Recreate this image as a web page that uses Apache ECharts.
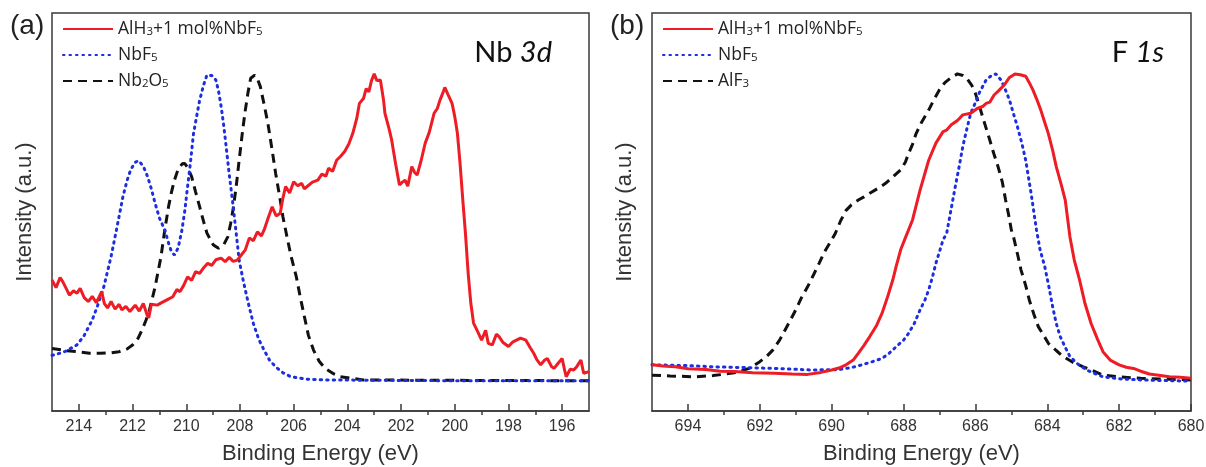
<!DOCTYPE html>
<html>
<head>
<meta charset="utf-8">
<title>XPS Nb 3d / F 1s</title>
<script src="https://cdn.jsdelivr.net/npm/echarts@6/dist/echarts.min.js"></script>
<style>
  html, body { margin: 0; padding: 0; background: #fff; }
  #chart { width: 1206px; height: 467px; }
</style>
</head>
<body>
<div id="chart"></div>
<script>
// tick labels
const nbTicks = [214, 212, 210, 208, 206, 204, 202, 200, 198, 196]
const nbMinorTicks = [213, 211, 209, 207, 205, 203, 201, 199, 197]
const fTicks = [694, 692, 690, 688, 686, 684, 682, 680]
const fMinorTicks = [693, 691, 689, 687, 685, 683, 681]

// (a) Nb 3d, [binding energy, intensity a.u.]
const nbComposite = [
  [215.0, 32.9], [214.85, 31.0], [214.7, 33.5], [214.6, 32.5], [214.45, 30.5], [214.35, 29.1], [214.2, 30.2],
  [214.07, 29.6], [213.95, 30.8], [213.8, 28.5], [213.65, 27.5], [213.5, 28.8], [213.35, 27.2], [213.15, 30.0],
  [213.05, 27.0], [212.93, 25.9], [212.8, 27.5], [212.65, 25.6], [212.5, 26.8], [212.4, 25.4], [212.25, 26.3],
  [212.1, 25.0], [211.9, 26.6], [211.75, 25.1], [211.6, 27.0], [211.45, 24.0], [211.4, 23.4], [211.3, 26.8],
  [211.08, 26.6], [210.9, 27.3], [210.7, 28.0], [210.5, 28.7], [210.35, 30.5], [210.23, 30.0], [210.1, 31.5],
  [209.95, 33.7], [209.8, 32.8], [209.65, 35.0], [209.5, 34.6], [209.35, 36.0], [209.2, 37.1], [209.05, 36.6],
  [208.9, 38.0], [208.7, 38.4], [208.55, 37.5], [208.4, 38.6], [208.25, 37.6], [208.1, 37.9], [207.95, 39.2],
  [207.8, 40.5], [207.65, 43.5], [207.5, 42.8], [207.35, 45.0], [207.2, 44.0], [207.1, 45.5], [206.95, 48.5],
  [206.8, 51.3], [206.65, 49.0], [206.5, 49.7], [206.4, 53.5], [206.3, 56.4], [206.15, 54.8], [206.0, 57.6],
  [205.85, 56.6], [205.7, 57.2], [205.6, 55.8], [205.5, 56.4], [205.3, 57.5], [205.1, 58.0], [204.95, 59.5],
  [204.8, 59.0], [204.7, 61.0], [204.55, 60.2], [204.4, 63.0], [204.25, 64.0], [204.1, 65.2], [203.95, 67.0],
  [203.8, 69.7], [203.65, 73.5], [203.55, 77.3], [203.4, 78.5], [203.3, 81.0], [203.2, 80.2], [203.1, 83.0],
  [203.0, 84.7], [202.9, 83.0], [202.77, 83.2], [202.65, 78.0], [202.6, 74.8], [202.45, 71.0], [202.35, 68.1],
  [202.2, 62.0], [202.06, 56.8], [201.95, 57.5], [201.85, 58.0], [201.75, 56.5], [201.6, 61.4], [201.5, 60.0],
  [201.4, 59.3], [201.25, 63.0], [201.1, 67.3], [200.95, 70.0], [200.77, 74.8], [200.65, 76.0], [200.55, 78.1],
  [200.45, 79.8], [200.37, 81.3], [200.25, 79.5], [200.1, 77.3], [200.0, 74.0], [199.9, 69.7], [199.8, 62.0],
  [199.7, 53.0], [199.6, 44.5], [199.5, 34.6], [199.4, 27.0], [199.3, 22.1], [199.15, 20.0], [199.0, 17.8],
  [198.85, 20.3], [198.75, 17.0], [198.6, 16.6], [198.45, 19.3], [198.35, 18.7], [198.2, 17.2], [198.0, 16.2],
  [197.85, 17.3], [197.7, 17.8], [197.55, 18.3], [197.35, 17.8], [197.2, 16.0], [197.06, 14.5], [196.95, 13.0],
  [196.8, 11.6], [196.65, 12.8], [196.55, 13.2], [196.4, 11.2], [196.3, 10.7], [196.15, 12.0], [196.0, 13.2],
  [195.9, 10.0], [195.85, 8.6], [195.7, 10.5], [195.57, 10.3], [195.45, 11.2], [195.3, 12.8], [195.2, 9.5],
  [195.0, 9.9]
]
const nbF5 = [
  [215.0, 14.0], [214.9, 14.1], [214.5, 15.0], [214.07, 16.6], [213.8, 19.0], [213.5, 22.9], [213.3, 26.5],
  [213.07, 31.2], [212.8, 38.8], [212.6, 45.5], [212.36, 53.8], [212.2, 58.0], [212.07, 60.6], [211.9, 62.5],
  [211.77, 62.9], [211.6, 61.5], [211.44, 58.9], [211.3, 55.8], [211.16, 52.2], [211.0, 48.5], [210.8, 45.5],
  [210.65, 42.0], [210.55, 40.0], [210.44, 39.2], [210.3, 41.0], [210.16, 45.5], [210.05, 50.5], [209.95, 56.4],
  [209.85, 62.0], [209.73, 69.7], [209.6, 74.5], [209.5, 78.1], [209.35, 82.0], [209.23, 84.4], [209.05, 84.3],
  [208.9, 83.2], [208.8, 80.5], [208.7, 76.5], [208.6, 71.5], [208.5, 65.6], [208.4, 59.5], [208.28, 53.0],
  [208.14, 44.7], [208.03, 37.9], [207.9, 33.5], [207.8, 30.4], [207.65, 26.0], [207.5, 22.0], [207.3, 18.0],
  [207.1, 15.3], [206.9, 12.8], [206.67, 11.1], [206.4, 9.6], [206.1, 8.6], [205.5, 8.0], [204.8, 7.8],
  [200.0, 7.6], [195.0, 7.6]
]
const nb2O5 = [
  [215.0, 15.7], [214.5, 15.2], [214.07, 14.9], [213.6, 14.5], [213.2, 14.5], [212.8, 14.6], [212.5, 14.9],
  [212.2, 15.6], [212.0, 16.6], [211.8, 18.2], [211.65, 20.3], [211.5, 22.8], [211.37, 25.4], [211.16, 31.2],
  [211.05, 35.0], [210.94, 38.8], [210.8, 45.5], [210.66, 51.3], [210.55, 55.0], [210.44, 58.0], [210.3, 60.8],
  [210.15, 62.1], [210.06, 62.2], [209.95, 61.2], [209.8, 58.9], [209.65, 55.0], [209.5, 51.3], [209.35, 47.5],
  [209.23, 44.7], [209.0, 41.8], [208.8, 40.9], [208.6, 41.8], [208.45, 43.8], [208.35, 47.0], [208.24, 51.3],
  [208.13, 57.0], [208.03, 63.0], [207.9, 70.5], [207.8, 75.6], [207.7, 80.0], [207.6, 83.6], [207.45, 84.4],
  [207.35, 83.5], [207.24, 81.5], [207.1, 77.0], [206.96, 72.3], [206.8, 65.5], [206.67, 59.7], [206.5, 53.0],
  [206.4, 48.8], [206.25, 43.8], [206.1, 39.0], [205.9, 33.7], [205.75, 28.5], [205.6, 23.7], [205.45, 19.0],
  [205.26, 15.3], [205.05, 12.5], [204.83, 10.7], [204.5, 9.3], [204.26, 8.6], [203.4, 7.8], [200.0, 7.7],
  [195.0, 7.6]
]

// (b) F 1s
const fComposite = [
  [695.0, 11.6], [694.7, 11.3], [694.35, 11.1], [694.0, 10.6], [693.5, 10.4], [693.1, 10.0], [692.7, 9.9],
  [692.2, 9.6], [691.6, 9.5], [691.1, 9.3], [690.67, 9.2], [690.3, 9.7], [690.0, 10.3], [689.8, 10.8],
  [689.6, 11.6], [689.4, 12.8], [689.26, 14.5], [689.1, 16.5], [688.94, 18.7], [688.75, 21.5], [688.6, 24.5],
  [688.45, 28.5], [688.3, 32.9], [688.2, 36.5], [688.08, 40.5], [687.95, 43.5], [687.86, 45.5], [687.75, 48.0],
  [687.54, 55.5], [687.3, 63.0], [687.1, 67.3], [686.9, 70.2], [686.8, 70.6], [686.67, 71.9], [686.5, 73.0],
  [686.35, 74.4], [686.13, 74.8], [685.95, 76.0], [685.8, 76.5], [685.7, 77.3], [685.6, 77.6], [685.48, 79.4],
  [685.35, 80.5], [685.2, 81.9], [685.05, 83.8], [684.9, 84.7], [684.75, 84.5], [684.6, 84.1], [684.5, 82.5],
  [684.4, 80.7], [684.3, 78.5], [684.18, 75.6], [684.07, 72.5], [683.97, 69.7], [683.85, 65.5], [683.75, 61.4],
  [683.6, 56.5], [683.5, 53.0], [683.37, 43.8], [683.25, 38.0], [683.1, 32.9], [682.95, 27.0], [682.78, 22.0],
  [682.6, 18.0], [682.45, 14.9], [682.25, 12.8], [682.0, 11.6], [681.8, 11.0], [681.6, 10.7], [681.4, 10.0],
  [681.16, 9.3], [680.9, 9.0], [680.6, 8.6], [680.3, 8.5], [680.0, 8.2]
]
const fNbF5 = [
  [695.0, 11.6], [694.0, 11.4], [693.26, 11.1], [692.4, 10.9], [691.6, 10.7], [690.56, 10.3], [689.8, 10.4],
  [689.45, 10.9], [689.16, 11.6], [688.9, 12.3], [688.6, 13.2], [688.4, 14.5], [688.2, 16.2], [688.0, 17.8],
  [687.86, 19.5], [687.7, 22.0], [687.54, 25.4], [687.4, 28.0], [687.3, 30.4], [687.2, 33.5], [687.1, 37.1],
  [687.0, 40.0], [686.9, 43.0], [686.8, 44.6], [686.68, 50.5], [686.56, 56.4], [686.45, 61.5], [686.35, 66.5],
  [686.24, 70.8], [686.13, 74.8], [686.0, 77.5], [685.9, 79.8], [685.8, 81.5], [685.7, 83.2], [685.55, 84.3],
  [685.43, 84.7], [685.3, 83.3], [685.2, 81.5], [685.05, 78.1], [684.95, 75.0], [684.83, 71.4], [684.7, 67.0],
  [684.6, 63.0], [684.45, 54.7], [684.3, 45.5], [684.2, 40.5], [684.07, 36.3], [683.95, 31.0], [683.85, 26.2],
  [683.75, 22.0], [683.64, 18.7], [683.5, 16.0], [683.37, 13.7], [683.15, 11.8], [682.9, 10.3], [682.65, 9.3],
  [682.45, 8.6], [682.0, 8.1], [681.4, 7.8], [680.5, 7.6], [680.0, 7.5]
]
const fAlF3 = [
  [695.0, 9.0], [694.5, 8.8], [693.8, 8.6], [693.3, 8.9], [692.94, 9.3], [692.6, 9.8], [692.3, 10.7],
  [692.15, 11.5], [692.0, 12.4], [691.8, 13.8], [691.64, 15.3], [691.45, 17.8], [691.3, 20.3], [691.15, 22.8],
  [691.0, 25.4], [690.85, 28.3], [690.67, 31.2], [690.5, 34.3], [690.35, 37.1], [690.2, 40.0], [690.0, 43.0],
  [689.9, 44.6], [689.75, 47.8], [689.6, 50.4], [689.45, 51.8], [689.26, 53.0], [689.1, 53.8], [688.94, 54.7],
  [688.7, 56.0], [688.5, 57.2], [688.3, 58.8], [688.08, 60.6], [687.95, 62.5], [687.86, 64.7], [687.75, 67.0],
  [687.65, 69.7], [687.5, 72.5], [687.3, 75.6], [687.15, 78.3], [687.0, 80.7], [686.85, 82.5], [686.7, 83.6],
  [686.5, 84.7], [686.35, 84.3], [686.24, 83.6], [686.1, 81.8], [686.0, 79.8], [685.9, 77.0], [685.8, 73.9],
  [685.7, 71.0], [685.6, 68.1], [685.5, 65.0], [685.37, 61.4], [685.25, 57.5], [685.16, 53.0], [685.08, 49.5],
  [685.0, 45.5], [684.94, 43.8], [684.83, 39.5], [684.73, 35.4], [684.6, 31.5], [684.5, 27.9], [684.38, 24.5],
  [684.25, 21.2], [684.1, 19.0], [683.97, 17.0], [683.75, 15.2], [683.56, 13.7], [683.3, 12.3], [683.0, 11.1],
  [682.7, 10.0], [682.45, 9.0], [682.0, 8.6], [681.4, 8.2], [680.6, 8.0], [680.0, 7.8]
]

const chart = echarts.init(document.getElementById('chart'))

const axisColor = '#3a3a3a'
const red = '#ee1c24'
const blue = '#1c2ee0'
const black = '#111111'
const labelFont = 'Liberation Sans'
const dotted = [1.5, 5]
const dashed = [9, 6]

const legendNames = {
  'AlH3+1 mol%NbF5': 'AlH{s|3}+1 mol%NbF{s|5}',
  'NbF5': 'NbF{s|5}',
  'Nb2O5': 'Nb{s|2}O{s|5}',
  'AlF3': 'AlF{s|3}'
}

function majorAxis(gridIndex, min, max, ticks) {
  return {
    gridIndex: gridIndex,
    type: 'value',
    min: min,
    max: max,
    inverse: true,
    name: 'Binding Energy (eV)',
    nameLocation: 'middle',
    nameGap: 32,
    nameTextStyle: { fontSize: 22, fontFamily: labelFont, color: '#333' },
    axisLine: { onZero: false, lineStyle: { color: axisColor, width: 1.5 } },
    axisTick: { inside: true, length: 7, customValues: ticks, lineStyle: { color: axisColor, width: 1.5 } },
    axisLabel: { customValues: ticks, fontSize: 16, fontFamily: labelFont, color: '#333', margin: 8 },
    splitLine: { show: false }
  }
}

function minorAxis(gridIndex, min, max, ticks) {
  return {
    gridIndex: gridIndex,
    type: 'value',
    min: min,
    max: max,
    inverse: true,
    axisLine: { show: false },
    axisTick: { inside: true, length: 4, customValues: ticks, lineStyle: { color: axisColor, width: 1.5 } },
    axisLabel: { show: false },
    splitLine: { show: false }
  }
}

function intensityAxis(gridIndex) {
  return {
    gridIndex: gridIndex,
    type: 'value',
    min: 0,
    max: 100,
    name: 'Intensity (a.u.)',
    nameLocation: 'middle',
    nameGap: 16,
    nameTextStyle: { fontSize: 22, fontFamily: labelFont, color: '#333' },
    axisLine: { show: false },
    axisTick: { show: false },
    axisLabel: { show: false },
    splitLine: { show: false }
  }
}

function legend(left, names) {
  return {
    left: left,
    top: 15,
    orient: 'vertical',
    itemWidth: 50,
    itemHeight: 14,
    itemGap: 8,
    data: names,
    itemStyle: { opacity: 0 },
    formatter: name => legendNames[name],
    textStyle: {
      fontSize: 17.5,
      fontFamily: 'Open Sans',
      color: '#222',
      rich: {
        s: { fontSize: 11.5, fontFamily: 'Open Sans', color: '#222', verticalAlign: 'bottom', lineHeight: 10 }
      }
    }
  }
}

function line(name, data, xi, yi, color, type, z) {
  return {
    name: name,
    type: 'line',
    data: data,
    xAxisIndex: xi,
    yAxisIndex: yi,
    symbol: 'none',
    z: z,
    lineStyle: { color: color, width: 3, type: type, cap: type === dotted ? 'round' : 'butt' },
    itemStyle: { color: color }
  }
}

const panelTitle = { fontSize: 28, fontWeight: 'normal', fontFamily: labelFont, color: '#222' }
const coreTitle = {
  fontSize: 29,
  fontWeight: 'normal',
  fontFamily: 'Lato',
  color: '#111',
  rich: { i: { fontSize: 29, fontStyle: 'italic', fontFamily: 'Lato', color: '#111' } }
}

const option = {
  animation: false,
  title: [
    { text: '(a)', left: 5, top: 7, textStyle: panelTitle },
    { text: 'Nb {i|3d}', right: 649, top: 33, textStyle: coreTitle },
    { text: '(b)', left: 605, top: 7, textStyle: panelTitle },
    { text: 'F {i|1s}', right: 37, top: 33, textStyle: coreTitle }
  ],
  legend: [
    legend(57, ['AlH3+1 mol%NbF5', 'NbF5', 'Nb2O5']),
    legend(657, ['AlH3+1 mol%NbF5', 'NbF5', 'AlF3'])
  ],
  grid: [
    { left: 52, top: 13, width: 537, height: 398, outerBoundsMode: 'none', show: true, borderColor: axisColor, borderWidth: 1.5 },
    { left: 652, top: 13, width: 539, height: 398, outerBoundsMode: 'none', show: true, borderColor: axisColor, borderWidth: 1.5 }
  ],
  xAxis: [
    majorAxis(0, 195, 215, nbTicks),
    minorAxis(0, 195, 215, nbMinorTicks),
    majorAxis(1, 680, 695, fTicks),
    minorAxis(1, 680, 695, fMinorTicks)
  ],
  yAxis: [intensityAxis(0), intensityAxis(1)],
  series: [
    line('Nb2O5', nb2O5, 0, 0, black, dashed, 2),
    line('NbF5', nbF5, 0, 0, blue, dotted, 3),
    line('AlH3+1 mol%NbF5', nbComposite, 0, 0, red, 'solid', 4),
    line('AlF3', fAlF3, 2, 1, black, dashed, 2),
    line('NbF5', fNbF5, 2, 1, blue, dotted, 3),
    line('AlH3+1 mol%NbF5', fComposite, 2, 1, red, 'solid', 4)
  ]
}

chart.setOption(option, true)
</script>
</body>
</html>
